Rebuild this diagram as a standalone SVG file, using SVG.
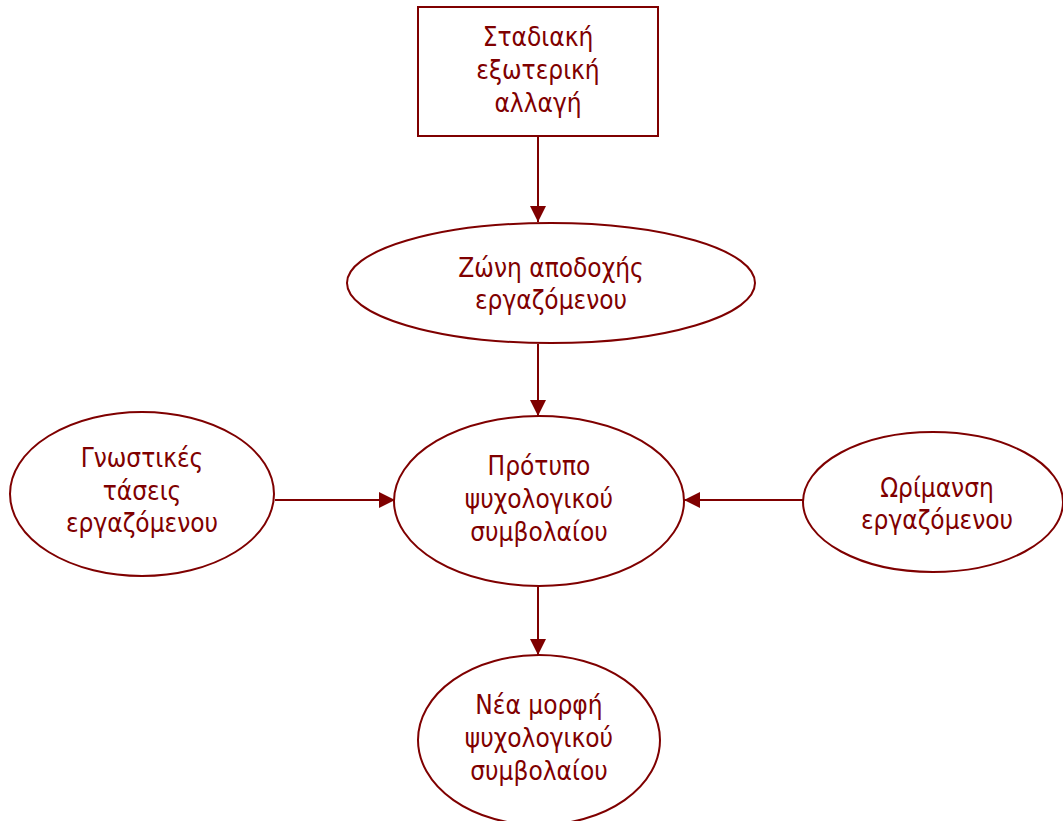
<svg xmlns="http://www.w3.org/2000/svg" width="1063" height="821" viewBox="0 0 1063 821">
  <style>
    .shape { fill: #ffffff; stroke: #7f0000; stroke-width: 2; }
    .label { font-family: "DejaVu Sans Condensed", "DejaVu Sans", sans-serif; font-stretch: condensed; font-size: 26px; fill: #7f0000; text-anchor: middle; }
    .link { stroke: #7f0000; stroke-width: 2; fill: none; marker-end: url(#arrow); }
  </style>
  <defs>
    <marker id="arrow" viewBox="0 0 10 10" refX="10" refY="5" markerWidth="16" markerHeight="16" markerUnits="userSpaceOnUse" orient="auto">
      <path d="M0,0 L10,5 L0,10 Z" fill="#7f0000"/>
    </marker>
  </defs>
  <rect width="1063" height="821" fill="#ffffff"/>

  <g id="connectors">
    <line class="link" x1="538" y1="136" x2="538" y2="222"/>
    <line class="link" x1="538" y1="344" x2="538" y2="416"/>
    <line class="link" x1="275" y1="500" x2="395" y2="500"/>
    <line class="link" x1="803" y1="500" x2="684" y2="500"/>
    <line class="link" x1="538" y1="587" x2="538" y2="655"/>
  </g>

  <g id="external-change">
    <rect class="shape" x="418" y="7" width="240" height="129"/>
    <text class="label" x="538" y="46">Σταδιακή</text>
    <text class="label" x="538" y="79">εξωτερική</text>
    <text class="label" x="538" y="112">αλλαγή</text>
  </g>

  <g id="acceptance-zone">
    <ellipse class="shape" cx="551" cy="283" rx="204" ry="60"/>
    <text class="label" x="551" y="277">Ζώνη αποδοχής</text>
    <text class="label" x="551" y="309">εργαζόμενου</text>
  </g>

  <g id="contract-model">
    <ellipse class="shape" cx="539" cy="501" rx="145" ry="85"/>
    <text class="label" x="539" y="475">Πρότυπο</text>
    <text class="label" x="539" y="508">ψυχολογικού</text>
    <text class="label" x="539" y="541">συμβολαίου</text>
  </g>

  <g id="cognitive-tendencies">
    <ellipse class="shape" cx="142" cy="494" rx="132" ry="82"/>
    <text class="label" x="142" y="467">Γνωστικές</text>
    <text class="label" x="142" y="500">τάσεις</text>
    <text class="label" x="142" y="532">εργαζόμενου</text>
  </g>

  <g id="maturity">
    <ellipse class="shape" cx="933" cy="502" rx="130" ry="70"/>
    <text class="label" x="937" y="497">Ωρίμανση</text>
    <text class="label" x="937" y="529">εργαζόμενου</text>
  </g>

  <g id="new-contract">
    <ellipse class="shape" cx="539" cy="740" rx="121" ry="85"/>
    <text class="label" x="539" y="714">Νέα μορφή</text>
    <text class="label" x="539" y="747">ψυχολογικού</text>
    <text class="label" x="539" y="780">συμβολαίου</text>
  </g>
</svg>
